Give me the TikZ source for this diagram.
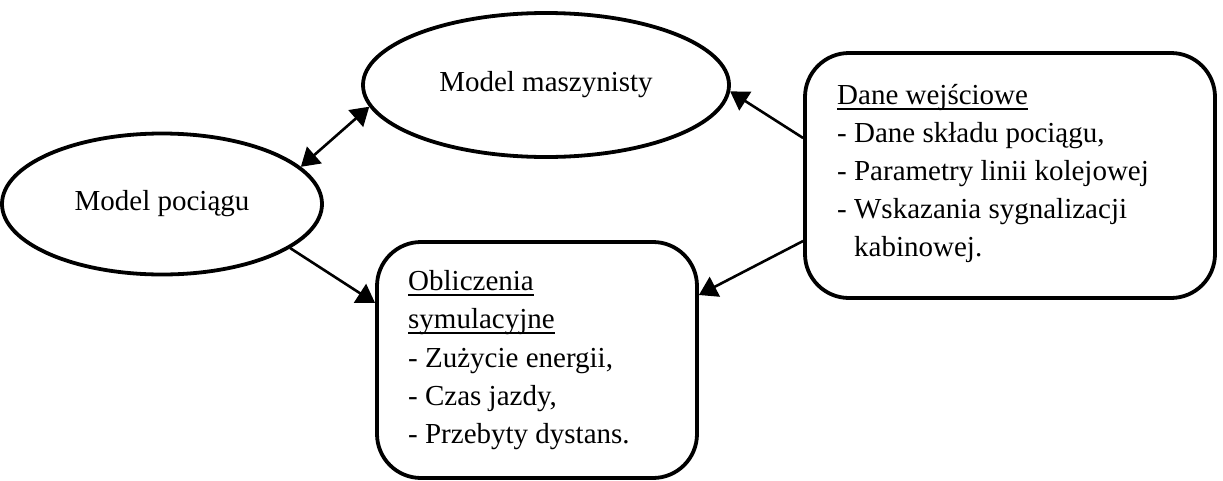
\documentclass[tikz,border=0pt]{standalone}
\usepackage{fontspec}
\setmainfont{Liberation Serif}
\usetikzlibrary{shapes.geometric,arrows.meta}
% word with a rule at a fixed depth below the baseline
\newcommand\ulword[1]{\setbox0\hbox{#1}\rlap{\rule[-5.5pt]{\wd0}{2pt}}\box0}

\begin{document}
\begin{tikzpicture}[x=1pt,y=-1pt,
  every node/.style={font=\fontsize{29}{38}\selectfont},
  oval/.style={ellipse,draw,line width=3.8pt,inner sep=0pt},
  panel/.style={draw,line width=3.8pt,rounded corners=44pt,inner sep=0pt},
  txt/.style={anchor=base west,inner sep=0pt},
  >={Triangle[length=18pt,width=22pt]},
  link/.style={line width=2.6pt},
]
\useasboundingbox (0,0) rectangle (1223,480);

% models
\node[oval,minimum width=366pt,minimum height=144pt] (masz) at (546,85) {Model maszynisty};
\node[oval,minimum width=320pt,minimum height=141pt] (poc) at (162,204) {Model pociągu};

% boxes
\node[panel,minimum width=410pt,minimum height=245pt] (dane) at (1010,175.5) {};
\node[panel,minimum width=320pt,minimum height=236pt] (obl) at (537,360) {};

% input data
\node[txt] (d1) at (837,104) {\ulword{Dane wejściowe}};
\node[txt] (d2) at (837,142) {- Dane składu pociągu,};
\node[txt] (d3) at (837,180) {- Parametry linii kolejowej};
\node[txt] (d4) at (837,218) {- Wskazania sygnalizacji};
\node[txt] (d5) at (854,256) {kabinowej.};

% simulation results
\node[txt] (o1) at (408,290) {\ulword{Obliczenia}};
\node[txt] (o2) at (408,328) {\ulword{symulacyjne}};
\node[txt] (o3) at (408,367) {- Zużycie energii,};
\node[txt] (o4) at (408,405) {- Czas jazdy,};
\node[txt] (o5) at (408,443) {- Przebyty dystans.};

% connectors
\draw[link,<->] (poc.15) -- (masz.187);
\draw[link,->] ([yshift=37.5pt]dane.west) -- (masz.-2);
\draw[link,->] ([yshift=-65.5pt]dane.west) -- ([yshift=65pt]obl.east);
\draw[link,->] (poc.-19) -- ([yshift=57pt]obl.west);
\end{tikzpicture}
\end{document}
